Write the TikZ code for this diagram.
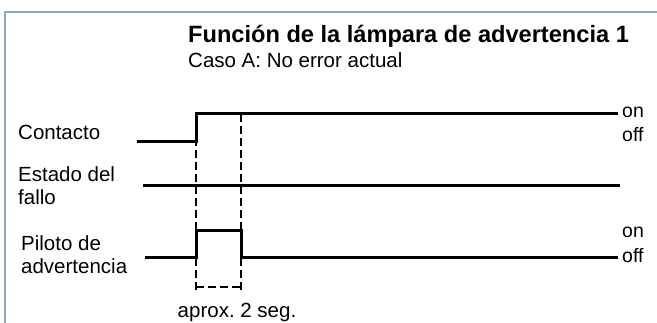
\documentclass[tikz,border=0pt]{standalone}
\usepackage{fontspec}
\setmainfont{Liberation Sans}
\definecolor{framecol}{HTML}{8FA5C0}
\frenchspacing
\begin{document}
\begin{tikzpicture}[x=1pt,y=-1pt,
  sig/.style={line width=3pt, line join=miter},
  guide/.style={line width=1.8pt, dash pattern=on 8pt off 4pt},
  lbl/.style={anchor=base west, inner sep=0pt, font=\fontsize{20.5}{24}\selectfont},
  state/.style={anchor=west, inner sep=0pt, font=\fontsize{19.5}{23}\selectfont}]
\useasboundingbox (0,0) rectangle (657,323);
% frame
\draw[framecol, line width=2.2pt] (5,323) -- (5,12) -- (657,12);
% heading
\node[anchor=base west, inner sep=0pt, font=\bfseries\fontsize{23.6}{28}\selectfont] (title) at (188,43) {Función de la lámpara de advertencia 1};
\node[anchor=base west, inner sep=0pt, font=\fontsize{20.5}{24}\selectfont] (subtitle) at (188,68) {Caso A: No error actual};
% signal names
\node[lbl] (contacto) at (18,140) {Contacto};
\node[lbl] (estado1) at (18,182) {Estado del};
\node[lbl] (estado2) at (18,205) {fallo};
\node[lbl] (piloto1) at (21,251) {Piloto de};
\node[lbl] (piloto2) at (21,274) {advertencia};
% timing guides
\coordinate (ga) at (196,114);
\coordinate (gb) at (241,114);
\coordinate (gaend) at (196,291);
\coordinate (gbend) at (241,291);
\draw[guide] (ga) -- (gaend);
\draw[guide] (gb) -- (gbend);
\draw[guide] (196,287) -- (241,287);
\node[anchor=base, inner sep=0pt, font=\fontsize{20.5}{24}\selectfont] (dur) at (237,318) {aprox. 2 seg.};
% signals
\draw[sig] (137,142) -- (196,142) -- (196,114) -- (618,114);
\draw[sig] (143,186) -- (620,186);
\draw[sig] (145,258) -- (196,258) -- (196,231) -- (241,231) -- (241,258) -- (618,258);
% state levels
\node[state] (on1) at (622,112) {on};
\node[state] (off1) at (622,135) {off};
\node[state] (on2) at (622,232) {on};
\node[state] (off2) at (622,256) {off};
\end{tikzpicture}
\end{document}
